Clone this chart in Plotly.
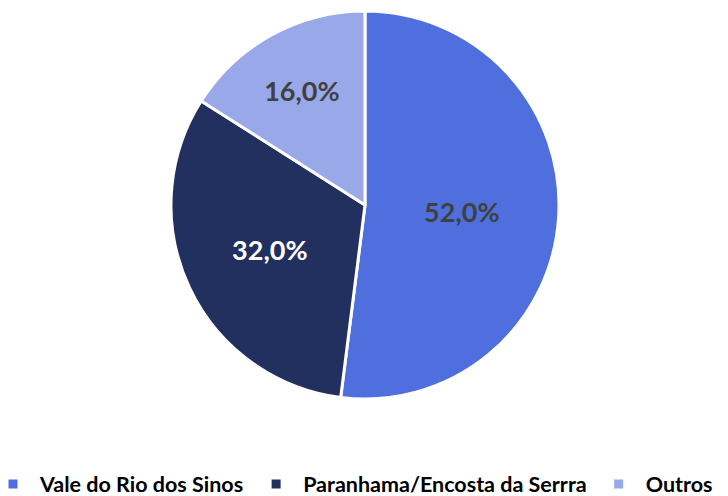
import plotly.graph_objects as go

labels = ["Vale do Rio dos Sinos", "Paranhama/Encosta da Serrra", "Outros"]
values = [52.0, 32.0, 16.0]
colors = ["#4F6FDF", "#22305F", "#98A8E8"]
text_colors = ["#404040", "#FFFFFF", "#404040"]

# figure is drawn with the page's 8px body margin; only the left part is visible
W, H = 900, 496
cx, cy, r = 357, 197, 194

fig = go.Figure(go.Pie(
    labels=labels,
    values=values,
    sort=False,
    direction="clockwise",
    rotation=0,
    marker=dict(colors=colors, line=dict(color="white", width=3)),
    texttemplate="%{percent:.1%}",
    textposition="inside",
    insidetextorientation="horizontal",
    insidetextfont=dict(color=text_colors, size=27, family="Lato", weight="bold"),
    domain=dict(x=[(cx - r) / W, (cx + r) / W], y=[1 - (cy + r) / H, 1 - (cy - r) / H]),
    hoverinfo="label+percent",
))

fig.update_layout(
    width=W, height=H,
    margin=dict(l=0, r=0, t=0, b=0, autoexpand=False),
    separators=",.",
    paper_bgcolor="white",
    showlegend=True,
    legend=dict(
        orientation="h", x=-22 / W, y=-0.001, xanchor="left", yanchor="bottom",
        font=dict(family="Lato", size=21.5, color="#000000", weight="bold"),
        itemwidth=44,
    ),
)

fig.write_html("out.html")
